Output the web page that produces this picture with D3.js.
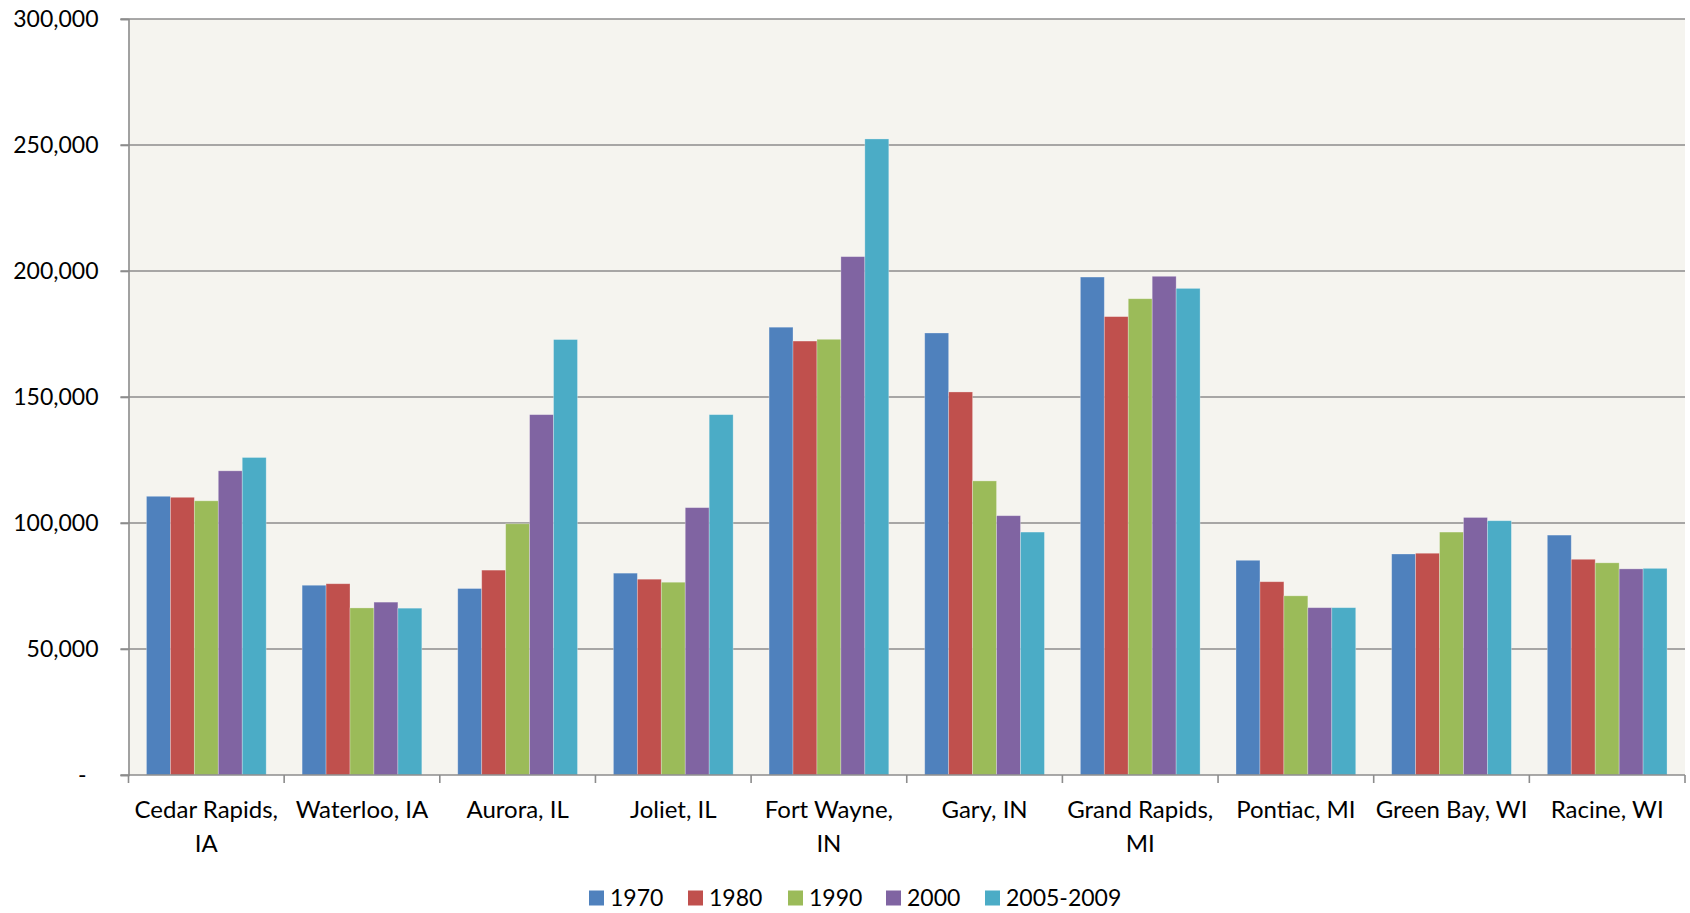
<!DOCTYPE html>
<html>
<head>
<meta charset="utf-8">
<script src="https://cdn.jsdelivr.net/npm/d3@7"></script>
<style>
  html, body { margin: 0; padding: 0; background: #ffffff; }
  svg { display: block; }
  text { font-family: Lato, "Open Sans", sans-serif; fill: #000; }
</style>
</head>
<body>
<svg id="chart" width="1690" height="913"></svg>
<script>
const categories = ["Cedar Rapids, IA", "Waterloo, IA", "Aurora, IL", "Joliet, IL", "Fort Wayne, IN",
  "Gary, IN", "Grand Rapids, MI", "Pontiac, MI", "Green Bay, WI", "Racine, WI"];
const seriesNames = ["1970", "1980", "1990", "2000", "2005-2009"];
const s1970 = [110600, 75300, 74000, 80100, 177700, 175400, 197600, 85200, 87700, 95200];
const s1980 = [110200, 75900, 81300, 77700, 172200, 152000, 181900, 76700, 88000, 85600];
const s1990 = [108800, 66300, 99700, 76500, 172900, 116700, 189000, 71100, 96400, 84200];
const s2000 = [120700, 68600, 143000, 106100, 205700, 102900, 197900, 66400, 102200, 81800];
const s2005 = [126000, 66200, 172800, 143000, 252400, 96400, 193100, 66400, 100900, 82000];
const yTicks = [0, 50000, 100000, 150000, 200000, 250000, 300000];
const colors = ["#4F81BD", "#C0504D", "#9BBB59", "#8064A2", "#4BACC6"];

(function () {
const series = [s1970, s1980, s1990, s2000, s2005];
const svg = d3.select("#chart");
const pLeft = 128.5, pRight = 1685, pTop = 19, pBottom = 775;

const x = d3.scaleBand().domain(categories).range([pLeft, pRight]).paddingInner(0.2308).paddingOuter(0.1154);
const xi = d3.scaleBand().domain(seriesNames).range([0, x.bandwidth()]);
const y = d3.scaleLinear().domain([0, 300000]).range([pBottom, pTop]);

// plot background
svg.append("rect").attr("x", pLeft).attr("y", pTop).attr("width", pRight - pLeft).attr("height", pBottom - pTop)
  .attr("fill", "#F5F4EF");

// gridlines
svg.append("g").selectAll("line").data(yTicks.filter(d => d > 0)).join("line")
  .attr("x1", pLeft - 8).attr("x2", pRight)
  .attr("y1", d => y(d)).attr("y2", d => y(d))
  .attr("stroke", "#8C8C8C").attr("stroke-width", 1.6);

// y axis
const yAxis = d3.axisLeft(y).tickValues(yTicks).tickSize(8).tickPadding(22)
  .tickFormat(d => d === 0 ? "-" : d3.format(",")(d));
const gy = svg.append("g").attr("transform", `translate(${pLeft},0)`).call(yAxis);
gy.select(".domain").attr("stroke", "#8C8C8C").attr("stroke-width", 1.6);
gy.selectAll(".tick line").attr("stroke", "#8C8C8C").attr("stroke-width", 1.6);
gy.selectAll(".tick text").attr("font-size", 23).attr("font-family", "Lato, sans-serif").attr("fill", "#000")
  .attr("dx", d => d === 0 ? -12 : 0);

// bars
const groups = svg.append("g").selectAll("g").data(categories).join("g")
  .attr("transform", d => `translate(${x(d)},0)`);
groups.selectAll("rect").data((c, i) => series.map((s, k) => ({ k, v: s[i] }))).join("rect")
  .attr("x", d => xi(seriesNames[d.k]))
  .attr("width", xi.bandwidth())
  .attr("y", d => y(d.v))
  .attr("height", d => y(0) - y(d.v))
  .attr("fill", d => colors[d.k])
  .attr("stroke", "rgba(255,255,255,0.35)").attr("stroke-width", 0.8);

// x axis
const xTickPos = d3.range(categories.length + 1).map(i => pLeft + i * x.step());
svg.append("g").selectAll("line").data(xTickPos).join("line")
  .attr("x1", d => d).attr("x2", d => d).attr("y1", pBottom).attr("y2", pBottom + 8)
  .attr("stroke", "#8C8C8C").attr("stroke-width", 1.6);
svg.append("line").attr("x1", pLeft - 8).attr("x2", pRight).attr("y1", pBottom).attr("y2", pBottom)
  .attr("stroke", "#8C8C8C").attr("stroke-width", 1.6);

const xl = svg.append("g").selectAll("text").data(categories).join("text")
  .attr("text-anchor", "middle").attr("font-size", 24)
  .attr("x", d => x(d) + x.bandwidth() / 2).attr("y", 818);
xl.each(function (d) {
  const t = d3.select(this);
  t.text(d);
  if (this.getComputedTextLength() > x.step() - 2) {
    const idx = d.lastIndexOf(" ");
    t.text(null);
    t.append("tspan").attr("x", x(d) + x.bandwidth() / 2).text(d.slice(0, idx));
    t.append("tspan").attr("x", x(d) + x.bandwidth() / 2).attr("dy", 33.5).text(d.slice(idx + 1));
  }
});

// legend
const legendX = [589, 688, 788, 886, 985];
const lg = svg.append("g").selectAll("g").data(seriesNames).join("g")
  .attr("transform", (d, i) => `translate(${legendX[i]},898)`);
lg.append("rect").attr("x", 0).attr("y", -7.5).attr("width", 15).attr("height", 15)
  .attr("fill", (d, i) => colors[i]);
lg.append("text").attr("x", 21).attr("y", 0).attr("dy", "0.35em").attr("font-size", 23).text(d => d);
})();
</script>
</body>
</html>
